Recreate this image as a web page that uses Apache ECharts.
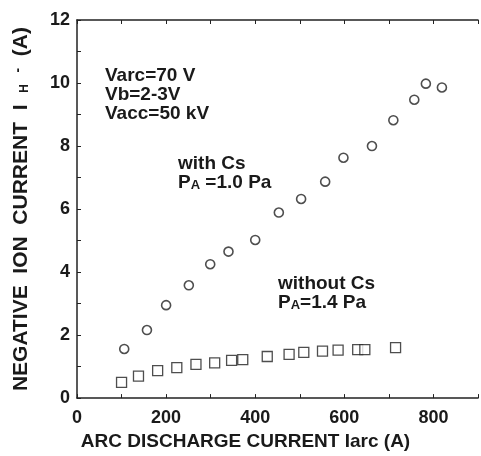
<!DOCTYPE html>
<html>
<head>
<meta charset="utf-8">
<script src="https://cdn.jsdelivr.net/npm/echarts@6/dist/echarts.min.js"></script>
<style>
html,body{margin:0;padding:0;background:#fff;}
#chart{width:481px;height:456px;}
</style>
</head>
<body>
<div id="chart"></div>
<script>
// with Cs, P_A = 1.0 Pa (circles)
var withCsX = [106, 157, 200, 251, 299, 340, 400, 453, 503, 557, 598, 662, 710, 757, 783, 819];
var withCsY = [1.56, 2.16, 2.95, 3.58, 4.25, 4.65, 5.02, 5.89, 6.32, 6.87, 7.63, 8.0, 8.82, 9.47, 9.98, 9.86];
// without Cs, P_A = 1.4 Pa (squares)
var withoutCsX = [100, 138, 181, 224, 267, 309, 347, 372, 427, 476, 509, 551, 586, 630, 646, 715];
var withoutCsY = [0.50, 0.70, 0.87, 0.97, 1.07, 1.12, 1.20, 1.22, 1.32, 1.39, 1.45, 1.49, 1.52, 1.54, 1.54, 1.60];
var xLabels = [0, 200, 400, 600, 800];
var yLabels = [0, 2, 4, 6, 8, 10, 12];

function pairs(xs, ys){
  var out = [];
  for (var i = 0; i < xs.length; i++) out.push([xs[i], ys[i]]);
  return out;
}

var FONT = "'Liberation Sans', Arial, Helvetica, sans-serif";
var INK = '#1a1a1a';

var myChart = echarts.init(document.getElementById('chart'));
var option = {
  animation: false,
  backgroundColor: '#fff',
  grid: { left: 77, top: 20, bottom: 56, right: -8 },
  xAxis: [
    {
      type: 'value', min: 0, max: 900, interval: 100,
      name: 'ARC DISCHARGE CURRENT Iarc (A)',
      nameLocation: 'middle', nameGap: 31,
      nameTextStyle: { fontFamily: FONT, fontWeight: 'bold', fontSize: 19, color: INK, padding: [0, 64, 0, 0] },
      axisLine: { lineStyle: { color: '#222', width: 1.5 } },
      axisTick: { inside: true, length: 4, lineStyle: { color: '#222' } },
      axisLabel: {
        margin: 11, fontFamily: FONT, fontWeight: 'bold', fontSize: 18, color: INK,
        formatter: function(v){ return xLabels.indexOf(v) >= 0 ? String(v) : ''; }
      },
      splitLine: { show: false }
    },
    {
      type: 'value', min: 0, max: 900, interval: 100, position: 'top',
      axisLine: { show: true, lineStyle: { color: '#222', width: 1.5 } },
      axisTick: { inside: true, length: 4, lineStyle: { color: '#222' } },
      axisLabel: { show: false },
      splitLine: { show: false }
    }
  ],
  yAxis: [
    {
      type: 'value', min: 0, max: 12, interval: 1,
      name: 'NEGATIVE  ION  CURRENT  I  {h|H}  {m|-}  (A)',
      nameLocation: 'middle', nameGap: 45, nameRotate: 90,
      nameTextStyle: {
        fontFamily: FONT, fontWeight: 'bold', fontSize: 21, color: INK,
        rich: {
          h: { fontFamily: FONT, fontWeight: 'bold', fontSize: 12, color: INK, padding: [7, 0, 0, 0] },
          m: { fontFamily: FONT, fontWeight: 'bold', fontSize: 14, color: INK, padding: [0, 0, 6, 0] }
        }
      },
      axisLine: { show: true, lineStyle: { color: '#222', width: 1.5 } },
      axisTick: { inside: true, length: 4, lineStyle: { color: '#222' } },
      axisLabel: {
        margin: 7, fontFamily: FONT, fontWeight: 'bold', fontSize: 18, color: INK,
        formatter: function(v){ return yLabels.indexOf(v) >= 0 ? String(v) : ''; }
      },
      splitLine: { show: false }
    }
  ],
  graphic: [
    {
      type: 'text', left: 105, top: 66,
      style: { text: 'Varc=70 V\nVb=2-3V\nVacc=50 kV', fontFamily: FONT, fontWeight: 'bold', fontSize: 19, lineHeight: 19, fill: INK }
    },
    {
      type: 'text', left: 178, top: 154,
      style: {
        text: 'with Cs\nP{a|A} =1.0 Pa', fontFamily: FONT, fontWeight: 'bold', fontSize: 19, lineHeight: 19, fill: INK,
        rich: { a: { fontFamily: FONT, fontWeight: 'bold', fontSize: 13, fill: INK, padding: [5, 0, 0, 0] } }
      }
    },
    {
      type: 'text', left: 278, top: 274,
      style: {
        text: 'without Cs\nP{a|A}=1.4 Pa', fontFamily: FONT, fontWeight: 'bold', fontSize: 19, lineHeight: 19, fill: INK,
        rich: { a: { fontFamily: FONT, fontWeight: 'bold', fontSize: 13, fill: INK, padding: [5, 0, 0, 0] } }
      }
    }
  ],
  series: [
    {
      name: 'with Cs', type: 'scatter', data: pairs(withCsX, withCsY),
      symbol: 'circle', symbolSize: 9,
      itemStyle: { color: '#fff', borderColor: '#222', borderWidth: 1.6 }
    },
    {
      name: 'without Cs', type: 'scatter', data: pairs(withoutCsX, withoutCsY),
      symbol: 'rect', symbolSize: 10,
      itemStyle: { color: '#fff', borderColor: '#222', borderWidth: 1.3 }
    }
  ]
};
myChart.setOption(option);
window.addEventListener('resize', function () {
  myChart.resize();
});
</script>
</body>
</html>
